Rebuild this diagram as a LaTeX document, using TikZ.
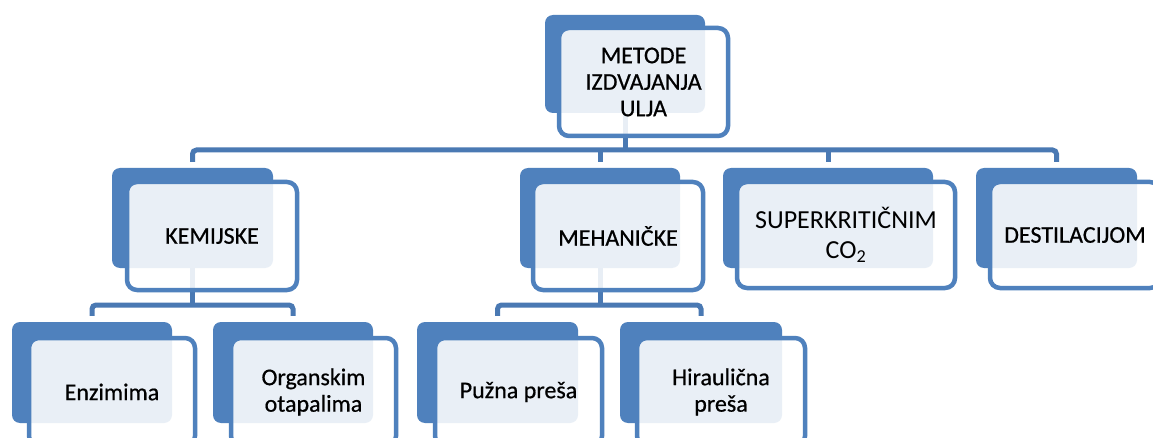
\documentclass[tikz,border=0pt]{standalone}
\usepackage{fontspec}
\setmainfont{Carlito}
\newfontfamily\heavyfont[FakeBold=0.6]{Carlito}
\usetikzlibrary{fit}
\definecolor{obl}{HTML}{4F81BD}
\definecolor{conc}{HTML}{4A79B3}
\pgfdeclarelayer{paper}
\pgfdeclarelayer{bg}
\pgfsetlayers{paper,bg,main}
\begin{document}
\begin{tikzpicture}[x=1pt,y=-1pt,
  backbox/.style={fill=obl, draw=none, rounded corners=8pt, inner sep=0pt},
  frontbox/.style={fill=white, fill opacity=0.88, draw=obl, draw opacity=1, line width=4.5pt, rounded corners=10pt, inner sep=0pt},
  lbl/.style={font=\heavyfont\fontsize{24}{26.5}\selectfont, align=center, text=black, inner sep=0pt},
  lbllarge/.style={font=\fontsize{26}{30}\selectfont, align=center, text=black, inner sep=0pt},
  conn/.style={draw=conc, line width=5pt, rounded corners=4pt}]
\useasboundingbox (0,0) rectangle (1153,438);
\clip (0,0) rectangle (1153,438);
\begin{pgfonlayer}{paper}
  \fill[white] (0,0) rectangle (1153,438);
\end{pgfonlayer}

% top
\node[backbox, fit={(545,15) (705,113)}] (tb) {};
\node[frontbox, fit={(559,28) (728,136)}] (tf) {};
\node[lbl] (tt) at (tf.center) {METODE\\IZDVAJANJA\\ULJA};

% level 1
\node[backbox, fit={(112,168) (273,268)}] (kb) {};
\node[frontbox, fit={(127,182) (297,290)}] (kf) {};
\node[lbl] (kt) at (kf.center) {KEMIJSKE};

\node[backbox, fit={(520,168) (680,268)}] (mb) {};
\node[frontbox, fit={(533,182) (703,290)}] (mf) {};
\node[lbl] (mt) at (mf.center) {MEHANIČKE};

\node[backbox, fit={(723,168) (933,268)}] (sb) {};
\node[frontbox, fit={(737,182) (955,288)}] (sf) {};
\node[lbllarge] (st) at (sf.center) {SUPERKRITIČNIM\\CO\textsubscript{2}};

\node[backbox, fit={(976,168) (1137,268)}] (db) {};
\node[frontbox, fit={(990,182) (1160,288)}] (df) {};
\node[lbl] (dt) at (df.center) {DESTILACIJOM};

% level 2
\node[backbox, fit={(12,322) (172,423)}] (eb) {};
\node[frontbox, fit={(29,338) (195,446)}] (ef) {};
\node[lbl] (et) at (ef.center) {Enzimima};

\node[backbox, fit={(213,322) (373,423)}] (ob) {};
\node[frontbox, fit={(231,338) (396,446)}] (of) {};
\node[lbl] (ot) at (of.center) {Organskim\\otapalima};

\node[backbox, fit={(417,322) (578,423)}] (pb) {};
\node[frontbox, fit={(435,338) (602,446)}] (pf) {};
\node[lbl] (pt) at (pf.center) {Pužna preša};

\node[backbox, fit={(620,322) (782,423)}] (hb) {};
\node[frontbox, fit={(637,338) (805,446)}] (hf) {};
\node[lbl] (ht) at (hf.center) {Hiraulična\\preša};

\coordinate (bus1) at (0,150);
\coordinate (bus2) at (0,305);

\begin{pgfonlayer}{bg}
  % level 0 -> level 1
  \draw[conn] (tb.south) -- (tb.south |- bus1);
  \draw[conn, shorten >=6pt] (kb.north) ++(0,-6) -- (kb.north |- bus1) -- (db.north |- bus1) -- (db.north);
  \draw[conn, shorten >=6pt] (mb.north |- bus1) -- (mb.north);
  \draw[conn, shorten >=6pt] (sb.north |- bus1) -- (sb.north);
  % KEMIJSKE -> level 2
  \draw[conn] (kb.south) -- (kb.south |- bus2);
  \draw[conn, shorten >=6pt] (eb.north) ++(0,-6) -- (eb.north |- bus2) -- (ob.north |- bus2) -- (ob.north);
  % MEHANICKE -> level 2
  \draw[conn] (mb.south) -- (mb.south |- bus2);
  \draw[conn, shorten >=6pt] (pb.north) ++(0,-6) -- (pb.north |- bus2) -- (hb.north |- bus2) -- (hb.north);
\end{pgfonlayer}
\end{tikzpicture}
\end{document}
